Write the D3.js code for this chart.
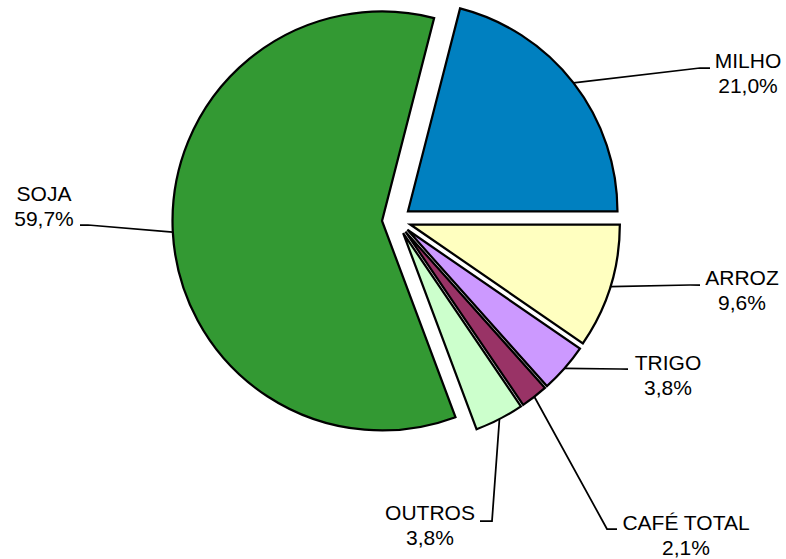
<!DOCTYPE html>
<html>
<head>
<meta charset="utf-8">
<script src="https://cdn.jsdelivr.net/npm/d3@7"></script>
<style>
  body { margin: 0; background: #fff; }
  svg { display: block; }
  .label { font-family: Arial, "Liberation Sans", sans-serif; font-size: 21px; fill: #000; }
  .leader { fill: none; stroke: #000; stroke-width: 1.75px; }
</style>
</head>
<body>
<svg width="786" height="559"></svg>
<script>
// data, clockwise from MILHO
const categories = ["MILHO", "ARROZ", "TRIGO", "CAFÉ TOTAL", "OUTROS", "SOJA"];
const shares = [21.0, 9.6, 3.8, 2.1, 3.8, 59.7];
const shareLabels = ["21,0%", "9,6%", "3,8%", "2,1%", "3,8%", "59,7%"];
const colors = ["#0080c0", "#ffffc0", "#cc99ff", "#993366", "#ccffcc", "#339933"];

// label layout: text centre, first baseline, leader elbow and end
const labelLayout = [
  { x: 748, y: 68,  elbow: [700, 68],  end: [710, 68] },
  { x: 742, y: 285, elbow: [690, 285], end: [700, 285] },
  { x: 668, y: 370, elbow: [620, 369], end: [628, 369] },
  { x: 686, y: 530, elbow: [607, 529], end: [617, 529] },
  { x: 430, y: 520, elbow: [492, 521], end: [480, 521] },
  { x: 44,  y: 201, elbow: [88, 225],  end: [80, 225] }
];

const svg = d3.select("svg");
const cx = 396.5, cy = 220.2, radius = 209.5, explode = 14.5;
const start = 2 * Math.PI * 0.04;

const pie = d3.pie().sort(null).startAngle(start).endAngle(start + 2 * Math.PI);
const arcs = pie(shares);
const arc = d3.arc().innerRadius(0).outerRadius(radius);

const mid = (d) => (d.startAngle + d.endAngle) / 2;
const offset = (d, r) => [Math.sin(mid(d)) * r, -Math.cos(mid(d)) * r];

const g = svg.append("g").attr("transform", `translate(${cx},${cy})`);

g.selectAll("path.slice")
  .data(arcs)
  .enter()
  .append("path")
  .attr("class", "slice")
  .attr("transform", (d) => `translate(${offset(d, explode)})`)
  .attr("d", arc)
  .attr("fill", (d, i) => colors[i])
  .attr("stroke", "#000")
  .attr("stroke-width", 2.25)
  .attr("stroke-linejoin", "miter");

// leader lines from slice mid-arc to label
const line = d3.line();
svg.selectAll("path.leader")
  .data(arcs)
  .enter()
  .append("path")
  .attr("class", "leader")
  .attr("d", (d, i) => {
    const p = offset(d, explode + radius);
    const L = labelLayout[i];
    return line([[cx + p[0], cy + p[1]], L.elbow, L.end]);
  });

const labels = svg.selectAll("text.label")
  .data(categories)
  .enter()
  .append("text")
  .attr("class", "label")
  .attr("text-anchor", "middle")
  .attr("x", (d, i) => labelLayout[i].x)
  .attr("y", (d, i) => labelLayout[i].y);

labels.append("tspan").attr("x", (d, i) => labelLayout[i].x).text((d) => d);
labels.append("tspan").attr("x", (d, i) => labelLayout[i].x).attr("dy", 24.5).text((d, i) => shareLabels[i]);
</script>
</body>
</html>
